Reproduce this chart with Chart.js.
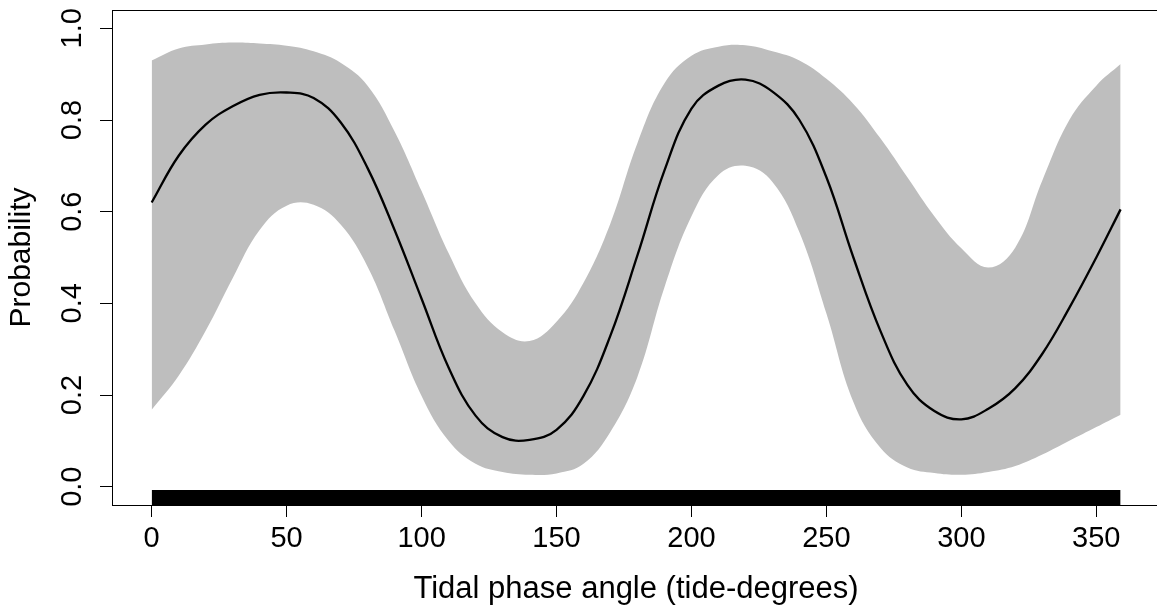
<!DOCTYPE html>
<html>
<head>
<meta charset="utf-8">
<script src="https://cdn.jsdelivr.net/npm/chart.js@4.4.1/dist/chart.umd.min.js"></script>
<style>
    html, body { margin: 0; padding: 0; background: #fff; overflow: hidden; }
    #wrap { width: 1157px; height: 615px; overflow: hidden; }
    canvas { display: block; }
</style>
</head>
<body>
<div id="wrap"><canvas id="tideChart" width="1162" height="615"></canvas></div>
<script>
// tidal phase angle (degrees) where the fitted curve was read
const angles = [0, 10, 20, 30, 40, 50, 60, 70, 80, 90, 100, 110, 120, 130, 140, 150, 160, 170, 180,
    190, 200, 210, 220, 230, 240, 250, 260, 270, 280, 290, 300, 310, 320, 330, 340, 350, 359];

// fitted probability
const meanProb = [0.62, 0.722, 0.79, 0.83, 0.855, 0.86, 0.848, 0.795, 0.695, 0.56, 0.41, 0.26, 0.155,
    0.108, 0.102, 0.124, 0.198, 0.33, 0.505, 0.69, 0.825, 0.875, 0.888, 0.862, 0.80, 0.675, 0.50,
    0.34, 0.222, 0.165, 0.147, 0.17, 0.215, 0.29, 0.39, 0.50, 0.605];

// confidence band
const upperCI = [0.930, 0.956, 0.965, 0.969, 0.967, 0.962, 0.95, 0.925, 0.875, 0.775, 0.645, 0.51, 0.40,
    0.337, 0.318, 0.36, 0.445, 0.575, 0.75, 0.88, 0.94, 0.96, 0.963, 0.95, 0.93, 0.89, 0.835,
    0.76, 0.675, 0.59, 0.52, 0.478, 0.522, 0.668, 0.80, 0.875, 0.922];
const lowerCI = [0.168, 0.242, 0.34, 0.455, 0.56, 0.613, 0.615, 0.572, 0.48, 0.34, 0.198, 0.10, 0.05,
    0.032, 0.026, 0.029, 0.05, 0.12, 0.24, 0.435, 0.59, 0.68, 0.70, 0.665, 0.555, 0.378, 0.185,
    0.085, 0.042, 0.03, 0.026, 0.032, 0.045, 0.07, 0.10, 0.13, 0.157];

// observations rug (covers the whole range)
const rugRange = [0, 359];

const xTicks = [0, 50, 100, 150, 200, 250, 300, 350];
const yTicks = [0, 0.2, 0.4, 0.6, 0.8, 1.0];

const xMin = -14.7, xMax = 373.6;
const yMin = -0.04, yMax = 1.04;
const rugLength = 0.033;
const band = '#BEBEBE';

Chart.defaults.font.family = "Arial, 'Liberation Sans', sans-serif";
Chart.defaults.color = '#000';

function toPoints(ys) {
    return angles.map((a, i) => ({ x: a, y: ys[i] }));
}

const boxPlugin = {
    id: 'plotBox',
    afterDraw(chart) {
        const { ctx, chartArea: a } = chart;
        ctx.save();
        ctx.strokeStyle = '#000';
        ctx.lineWidth = 1;
        ctx.strokeRect(a.left + 0.5, a.top + 0.5, a.right - a.left, a.bottom - a.top);
        ctx.restore();
    }
};

const ctx = document.getElementById('tideChart').getContext('2d');

new Chart(ctx, {
    type: 'line',
    data: {
        datasets: [
            {
                data: toPoints(meanProb),
                borderColor: '#000',
                borderWidth: 2.3,
                pointRadius: 0,
                fill: false,
                tension: 0.4
            },
            {
                data: toPoints(upperCI),
                borderWidth: 0,
                borderColor: band,
                backgroundColor: band,
                pointRadius: 0,
                fill: '+1',
                tension: 0.4
            },
            {
                data: toPoints(lowerCI),
                borderWidth: 0,
                borderColor: band,
                pointRadius: 0,
                fill: false,
                tension: 0.4
            },
            {
                data: rugRange.map(a => ({ x: a, y: yMin + rugLength })),
                borderWidth: 0,
                borderColor: '#000',
                backgroundColor: '#000',
                pointRadius: 0,
                fill: 'start',
                tension: 0
            }
        ]
    },
    options: {
        responsive: false,
        animation: false,
        events: [],
        layout: { padding: { top: 10, right: 2, left: 0, bottom: 0 } },
        plugins: {
            legend: { display: false },
            tooltip: { enabled: false }
        },
        scales: {
            x: {
                type: 'linear',
                min: xMin,
                max: xMax,
                afterBuildTicks: s => { s.ticks = xTicks.map(v => ({ value: v })); },
                afterFit: s => { s.height = 110; s.paddingLeft = 0; s.paddingRight = 0; },
                border: { display: false },
                grid: { drawOnChartArea: false, drawTicks: true, tickLength: 12, color: '#000', lineWidth: 1 },
                ticks: {
                    autoSkip: false,
                    maxRotation: 0,
                    padding: 5,
                    font: { size: 29 },
                    callback: v => String(v)
                },
                title: {
                    display: true,
                    text: 'Tidal phase angle (tide-degrees)',
                    font: { size: 31 },
                    padding: { top: 0, bottom: 7 }
                }
            },
            y: {
                type: 'linear',
                min: yMin,
                max: yMax,
                afterBuildTicks: s => { s.ticks = yTicks.map(v => ({ value: v })); },
                afterFit: s => { s.width = 112; s.paddingTop = 0; s.paddingBottom = 0; },
                border: { display: false },
                grid: { drawOnChartArea: false, drawTicks: true, tickLength: 12, color: '#000', lineWidth: 1 },
                ticks: {
                    autoSkip: false,
                    minRotation: 90,
                    maxRotation: 90,
                    crossAlign: 'center',
                    padding: 7,
                    font: { size: 29 },
                    callback: v => v.toFixed(1)
                },
                title: {
                    display: true,
                    text: 'Probability',
                    font: { size: 30 },
                    padding: { top: 4, bottom: 0 }
                }
            }
        }
    },
    plugins: [boxPlugin]
});
</script>
</body>
</html>
